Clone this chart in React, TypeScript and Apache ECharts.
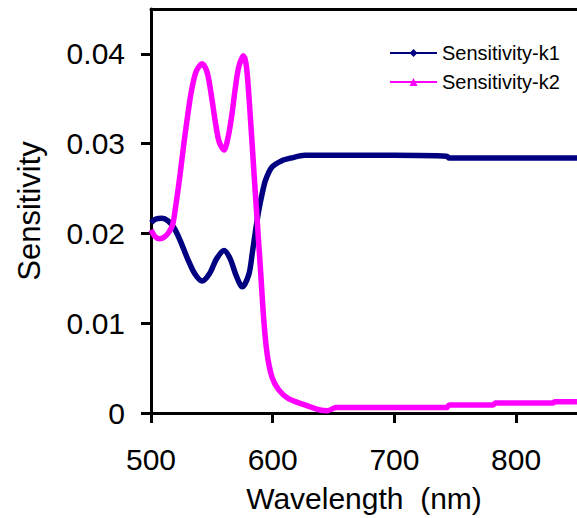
import React, { useEffect, useRef } from "react";
import * as echarts from "echarts";

const seriesNames = ["Sensitivity-k1", "Sensitivity-k2"];
const xTicks = [500, 600, 700, 800];
const yTicks = [0, 0.01, 0.02, 0.03, 0.04];

const k1Wavelength = [500, 504, 509, 514, 519, 524, 530, 536, 542, 548, 554, 560, 565, 570, 575, 580.5, 583.2, 586, 588.6, 591.3, 594, 599.4, 607.5, 615, 626.4, 661.5, 700, 743, 745, 800, 850];
const k1Values = [0.0212, 0.0216, 0.0217, 0.0214, 0.0206, 0.0192, 0.0172, 0.0155, 0.0147, 0.0155, 0.0172, 0.0181, 0.0172, 0.0153, 0.01405, 0.0155, 0.0178, 0.0204, 0.0226, 0.0244, 0.0259, 0.0274, 0.0281, 0.0284, 0.0287, 0.0287, 0.0287, 0.0286, 0.0284, 0.0284, 0.0284];

const k2Wavelength = [500, 503, 507, 511, 515, 518, 521, 524, 527, 530, 533, 537, 542, 546, 549, 553, 556, 560, 563, 566, 569, 572, 576, 578.5, 581.8, 584.5, 587.2, 590, 592.7, 595.4, 599.4, 604.8, 612.9, 626.4, 640, 645, 652, 700, 743, 745, 781, 783, 830, 832, 850];
const k2Values = [0.0204, 0.0197, 0.0194, 0.0196, 0.0202, 0.0211, 0.0237, 0.0267, 0.03, 0.033, 0.0357, 0.038, 0.0389, 0.038, 0.0359, 0.0323, 0.0302, 0.0293, 0.0305, 0.0328, 0.0359, 0.0385, 0.0398, 0.0385, 0.0326, 0.027, 0.0215, 0.0159, 0.0103, 0.0066, 0.004, 0.0026, 0.0016, 0.0009, 0.0003, 0.00026, 0.0006, 0.0006, 0.0006, 0.0009, 0.0009, 0.0011, 0.0011, 0.00126, 0.00126];

const FONT = "Liberation Sans, Arial, sans-serif";

export default function App() {
  const ref = useRef<HTMLDivElement>(null);
  useEffect(() => {
    if (!ref.current) return;
    const chart = echarts.init(ref.current, undefined, { renderer: "svg" });
    const k1 = k1Wavelength.map((x, i) => [x, k1Values[i]]);
    const k2 = k2Wavelength.map((x, i) => [x, k2Values[i]]);
    chart.setOption({
      animation: false,
      backgroundColor: "#ffffff",
      grid: { left: 151, top: 9, width: 431, height: 404, containLabel: false },
      legend: {
        left: 384,
        top: 38,
        orient: "vertical",
        itemWidth: 47,
        itemHeight: 10,
        itemGap: 9,
        textStyle: { fontFamily: FONT, fontSize: 20, color: "#000" },
        data: seriesNames,
      },
      xAxis: [
        {
          type: "value",
          min: 500,
          max: 850,
          interval: 100,
          name: "Wavelength  (nm)",
          nameLocation: "middle",
          nameGap: 70,
          nameTextStyle: { fontFamily: FONT, fontSize: 30, color: "#000" },
          axisLine: { show: true, onZero: false, lineStyle: { color: "#000", width: 3 } },
          axisTick: { show: true, inside: false, length: 10, customValues: xTicks, lineStyle: { color: "#000", width: 3 } },
          axisLabel: { customValues: xTicks, margin: 31, fontFamily: FONT, fontSize: 30, color: "#000" },
          splitLine: { show: false },
        },
        {
          type: "value",
          position: "top",
          min: 500,
          max: 850,
          axisLine: { show: true, onZero: false, lineStyle: { color: "#000", width: 3 } },
          axisTick: { show: false },
          axisLabel: { show: false },
          splitLine: { show: false },
        },
      ],
      yAxis: {
        type: "value",
        min: 0,
        max: 0.045,
        interval: 0.01,
        name: "Sensitivity",
        nameLocation: "middle",
        nameGap: 106,
        nameTextStyle: { fontFamily: FONT, fontSize: 31, color: "#000" },
        axisLine: { show: true, onZero: false, lineStyle: { color: "#000", width: 3 } },
        axisTick: { show: true, inside: false, length: 10, customValues: yTicks, lineStyle: { color: "#000", width: 3 } },
        axisLabel: {
          customValues: yTicks,
          margin: 26,
          fontFamily: FONT,
          fontSize: 30,
          color: "#000",
          formatter: (v: number) => (v === 0 ? "0" : v.toFixed(2)),
        },
        splitLine: { show: false },
      },
      series: [
        {
          name: seriesNames[0],
          type: "line",
          data: k1,
          smooth: 0.3,
          symbol: "diamond",
          symbolSize: 5,
          showSymbol: false,
          color: "#000080",
          lineStyle: { color: "#000080", width: 5.5 },
          itemStyle: { color: "#000080" },
          z: 2,
        },
        {
          name: seriesNames[1],
          type: "line",
          data: k2,
          smooth: 0.3,
          symbol: "triangle",
          symbolSize: 5,
          showSymbol: false,
          color: "#ff00ff",
          lineStyle: { color: "#ff00ff", width: 5.5 },
          itemStyle: { color: "#ff00ff" },
          z: 3,
        },
      ],
    });
    return () => chart.dispose();
  }, []);
  return (
    <div
      ref={ref}
      style={{ position: "fixed", left: 0, top: 0, width: 577, height: 518, background: "#fff" }}
    />
  );
}
